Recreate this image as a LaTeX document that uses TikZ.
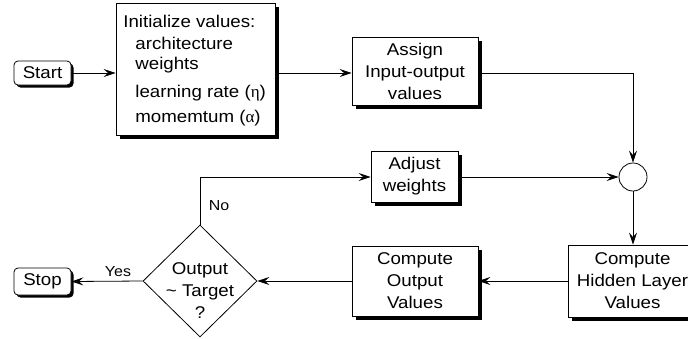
\documentclass[tikz,border=0pt]{standalone}
\usepackage{fontspec}
\setmainfont{Liberation Sans}[FakeStretch=1.1]
\newfontfamily\grk{Liberation Serif}
\usetikzlibrary{arrows.meta,shapes.geometric,shadows}
\begin{document}
\begin{tikzpicture}[x=1pt,y=-1pt,line width=0.8pt,
  txt/.style={font=\fontsize{17}{22}\selectfont},
  box/.style={draw,fill=white,inner sep=0pt,align=center,txt,
    drop shadow={shadow xshift=4pt,shadow yshift=-4pt,opacity=1,fill=black}},
  term/.style={draw,fill=white,rounded corners=4pt,inner sep=0pt,txt,
    drop shadow={shadow xshift=2.5pt,shadow yshift=-2.5pt,opacity=1,fill=black}},
  line/.style={-{Stealth[length=12pt,width=8pt,inset=4.5pt]}},
  lbl/.style={font=\fontsize{14.5}{17}\selectfont,inner sep=0pt}]
\useasboundingbox (0,0) rectangle (688,338);

% terminals
\node[term,minimum width=57pt,minimum height=24pt] (start) at (42.5,73) {Start};
\node[term,minimum width=57pt,minimum height=27pt] (stop) at (42.5,281.5) {Stop};

% initialize box
\node[box,minimum width=159pt,minimum height=132pt] (init) at (195.5,69) {};
\node[txt,anchor=base west,inner sep=0pt] (i1) at (123,27) {Initialize values:};
\node[txt,anchor=base west,inner sep=0pt] (i2) at (135,49) {architecture};
\node[txt,anchor=base west,inner sep=0pt] (i3) at (135,69) {weights};
\node[txt,anchor=base west,inner sep=0pt] (i4) at (135,97) {learning rate ({\grk η})};
\node[txt,anchor=base west,inner sep=0pt] (i5) at (135,122) {momemtum ({\grk α})};

% process boxes
\node[box,minimum width=126pt,minimum height=68pt] (assign) at (415,71) {Assign\\Input-output\\values};
\node[box,minimum width=87pt,minimum height=51pt] (adjust) at (414.5,176.5) {Adjust\\weights};
\node[box,minimum width=129pt,minimum height=72pt] (hidden) at (632.5,281) {Compute\\Hidden Layer\\Values};
\node[box,minimum width=126pt,minimum height=70pt] (output) at (415,281) {Compute\\Output\\Values};

% junction circle
\node[draw,circle,fill=white,minimum size=28pt,inner sep=0pt] (circ) at (633,177) {};

% decision
\node[draw,diamond,fill=white,minimum width=114pt,minimum height=112pt,inner sep=0pt] (dec) at (200,281) {};
\node[txt,align=center,inner sep=0pt] (dtext) at (200,291) {Output\\{\char`\~} Target\\?};

% labels
\node[lbl] (yes) at (118,271.5) {Yes};
\node[lbl] (no) at (219,205.5) {No};

% connectors
\draw[line] (start.east) -- (init.west |- start.east);
\draw[line] (init.east |- start.east) -- (assign.west |- start.east);
\draw[line] (assign.east |- start.east) -| (circ.north);
\draw[line] (adjust.east |- circ.west) -- (circ.west);
\draw[line] (circ.south) -- (hidden.north -| circ.south);
\draw[line] (hidden.west) -- (output.east);
\draw[line] (output.west) -- (dec.east);
\draw[line] (dec.west) -- (stop.east);
\draw[line] (dec.north) |- (adjust.west |- circ.west);
\end{tikzpicture}
\end{document}
